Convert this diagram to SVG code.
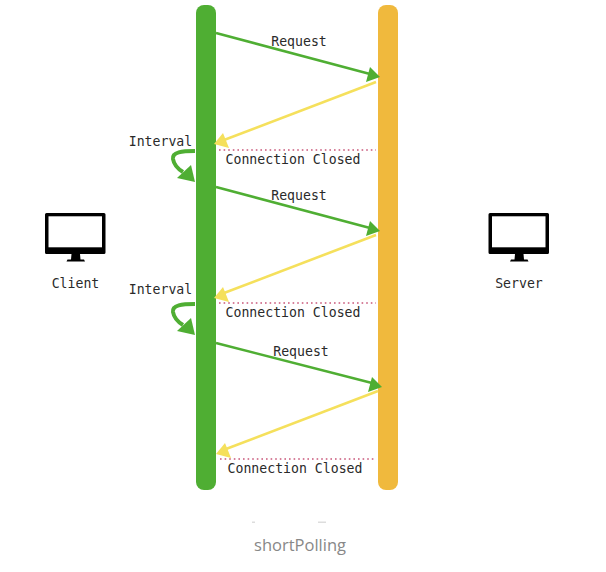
<svg xmlns="http://www.w3.org/2000/svg" width="606" height="572" viewBox="0 0 606 572">
<style>
.t{font-family:"DejaVu Sans Mono","Liberation Mono",monospace;font-size:13.200px;fill:#2a2a2a}
.req{stroke:#4fae33;stroke-width:2.500;fill:none}
.res{stroke:#f5e05c;stroke-width:2.600;fill:none}
.dot{stroke:#c9577a;stroke-width:1.600;stroke-dasharray:1.600 3;fill:none}
.loop{stroke:#4fae33;stroke-width:4;fill:none}
.hg{fill:#4fae33}
.hy{fill:#f5e05c}
.ghost{fill:#ddd}
</style>
<defs>
<g id="pc">
<path fill="#000" d="M0 1.500a1.500 1.500 0 0 1 1.500-1.500H59a1.500 1.500 0 0 1 1.500 1.500V39.500a1.500 1.500 0 0 1-1.500 1.500H35l.5 5.500h3.500l1 2H21.500l1-2h3.500l.5-5.500H1.500a1.500 1.500 0 0 1-1.500-1.500Z"/>
<rect x="3.500" y="3.300" width="53.500" height="31" fill="#fff"/>
</g>
</defs>
<rect width="606" height="572" fill="#fff"/>
<g id="client-line"><rect x="196" y="5" width="20" height="485" rx="8" fill="#4fae33"/></g>
<g id="server-line"><rect x="378" y="5" width="20" height="485" rx="8" fill="#f0b93d"/></g>
<g id="connectors">
<path class="req" d="M216 33L370 74"/><path class="hg" d="M380 77L370 67L366 82Z"/>
<path class="res" d="M376 82L224 140"/><path class="hy" d="M214 144L223 133L229 148Z"/>
<path class="dot" d="M219 150H376"/>
<path class="loop" d="M195 151C182 151 172 152 173 159C174 165 178 169 183 172"/><path class="hg" d="M195 182L191 165L177 178Z"/>
<path class="req" d="M216 187L370 228"/><path class="hg" d="M380 231L370 221L366 236Z"/>
<path class="res" d="M376 235L224 293"/><path class="hy" d="M214 298L223 287L229 302Z"/>
<path class="dot" d="M219 303H376"/>
<path class="loop" d="M195 304C182 304 172 305 173 312C174 318 178 322 183 325"/><path class="hg" d="M195 335L191 318L177 331Z"/>
<path class="req" d="M216 343L372 383"/><path class="hg" d="M382 387L372 377L368 392Z"/>
<path class="res" d="M378 391L226 449"/><path class="hy" d="M216 454L225 443L231 458Z"/>
<path class="dot" d="M220 459H376"/>
</g>
<g id="client"><use href="#pc" x="45" y="213"/><text class="t" x="75.500" y="288" text-anchor="middle">Client</text></g>
<g id="server"><use href="#pc" x="488.500" y="213"/><text class="t" x="519" y="288" text-anchor="middle">Server</text></g>
<g id="labels">
<text class="t" x="299" y="46" text-anchor="middle">Request</text>
<text class="t" x="160.500" y="146" text-anchor="middle">Interval</text>
<text class="t" x="293" y="164" text-anchor="middle">Connection Closed</text>
<text class="t" x="299" y="200" text-anchor="middle">Request</text>
<text class="t" x="160.500" y="294" text-anchor="middle">Interval</text>
<text class="t" x="293" y="317" text-anchor="middle">Connection Closed</text>
<text class="t" x="301" y="356" text-anchor="middle">Request</text>
<text class="t" x="295" y="473" text-anchor="middle">Connection Closed</text>
</g>
<g id="clipped-marks"><rect class="ghost" x="252" y="521.500" width="3" height="1.500"/><rect class="ghost" x="318" y="521.500" width="8" height="1.500"/></g>
<text id="caption" x="300" y="551" text-anchor="middle" font-family="'Open Sans','Noto Sans',sans-serif" font-size="16.500" fill="#888">shortPolling</text>
</svg>
